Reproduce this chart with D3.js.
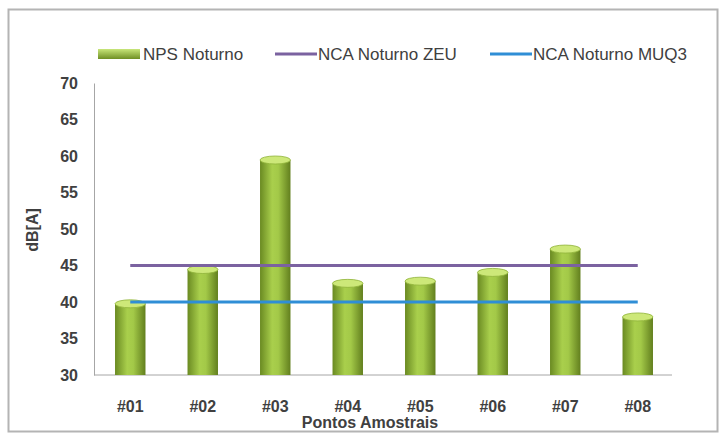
<!DOCTYPE html>
<html>
<head>
<meta charset="utf-8">
<script src="https://cdn.jsdelivr.net/npm/d3@7"></script>
<style>
  body { margin: 0; background: #fff; }
  text { font-family: "Liberation Sans", Arial, sans-serif; fill: #404040; }
</style>
</head>
<body>
<div id="chart"></div>
<script>
// dados
const pontos = ["#01", "#02", "#03", "#04", "#05", "#06", "#07", "#08"];
const npsNoturno = [40.3, 45.0, 60.0, 43.1, 43.4, 44.6, 47.8, 38.5];
const ncaZEU = [45, 45, 45, 45, 45, 45, 45, 45];
const ncaMUQ3 = [40, 40, 40, 40, 40, 40, 40, 40];
const yTicks = [30, 35, 40, 45, 50, 55, 60, 65, 70];

const W = 722, H = 434;
const svg = d3.select("#chart").append("svg")
    .attr("width", W)
    .attr("height", H);

const defs = svg.append("defs");
const grad = defs.append("linearGradient").attr("id", "cyl").attr("x1", "0").attr("x2", "1").attr("y1", "0").attr("y2", "0");
grad.append("stop").attr("offset", "0%").attr("stop-color", "#6a8a22");
grad.append("stop").attr("offset", "40%").attr("stop-color", "#a9cf4c");
grad.append("stop").attr("offset", "60%").attr("stop-color", "#a3c948");
grad.append("stop").attr("offset", "100%").attr("stop-color", "#627f1e");

const swGrad = defs.append("linearGradient").attr("id", "sw").attr("x1", "0").attr("x2", "0").attr("y1", "0").attr("y2", "1");
swGrad.append("stop").attr("offset", "0%").attr("stop-color", "#c8e67a");
swGrad.append("stop").attr("offset", "100%").attr("stop-color", "#6f8f24");

// moldura
svg.append("rect")
    .attr("x", 8.5).attr("y", 9.5)
    .attr("width", 709).attr("height", 422)
    .attr("fill", "#fff")
    .attr("stroke", "#b4b4b4")
    .attr("stroke-width", 2);

const x = d3.scaleBand()
    .domain(pontos)
    .range([94, 674])
    .paddingInner(0.58)
    .paddingOuter(0.29);

const y = d3.scaleLinear()
    .domain([30, 70])
    .range([375, 83]);

// eixo Y
const yAxis = svg.append("g")
    .attr("transform", "translate(94,0)")
    .call(d3.axisLeft(y).tickValues(yTicks).tickSize(0).tickPadding(16));
yAxis.select(".domain").attr("stroke", "#a6a6a6");
yAxis.selectAll("text")
    .style("font-size", "16px")
    .style("font-weight", "bold")
    .attr("fill", "#404040");

// eixo X
const xAxis = svg.append("g")
    .attr("transform", "translate(0,375)")
    .call(d3.axisBottom(x).tickSize(0).tickPadding(26));
xAxis.select(".domain").attr("stroke", "#a6a6a6").attr("d", "M94,0H672");
xAxis.selectAll("text")
    .style("font-size", "16px")
    .style("font-weight", "bold")
    .attr("fill", "#404040");

// barras cilindricas
const bw = x.bandwidth();
const ry = 4;
const bars = svg.append("g");
bars.selectAll("rect")
    .data(npsNoturno)
    .enter()
    .append("rect")
    .attr("x", (d, i) => x(pontos[i]))
    .attr("y", d => y(d) + ry)
    .attr("width", bw)
    .attr("height", d => y(30) - y(d) - ry)
    .attr("fill", "url(#cyl)");

bars.selectAll("ellipse")
    .data(npsNoturno)
    .enter()
    .append("ellipse")
    .attr("cx", (d, i) => x(pontos[i]) + bw / 2)
    .attr("cy", d => y(d) + ry)
    .attr("rx", bw / 2)
    .attr("ry", ry)
    .attr("fill", "#cde879")
    .attr("stroke", "#8fb23a")
    .attr("stroke-width", 0.8);

// linhas NCA
const line = d3.line()
    .x((d, i) => x(pontos[i]) + bw / 2)
    .y(d => y(d));

svg.append("path")
    .datum(ncaZEU)
    .attr("fill", "none")
    .attr("stroke", "#7b62a0")
    .attr("stroke-width", 3)
    .attr("d", line);

svg.append("path")
    .datum(ncaMUQ3)
    .attr("fill", "none")
    .attr("stroke", "#2f8ed6")
    .attr("stroke-width", 3)
    .attr("d", line);

// titulos dos eixos
svg.append("text")
    .attr("x", 370)
    .attr("y", 428)
    .attr("text-anchor", "middle")
    .style("font-size", "16px")
    .style("font-weight", "bold")
    .attr("fill", "#404040")
    .text("Pontos Amostrais");

svg.append("text")
    .attr("transform", "translate(38,230) rotate(-90)")
    .attr("text-anchor", "middle")
    .style("font-size", "16px")
    .style("font-weight", "bold")
    .attr("fill", "#404040")
    .text("dB[A]");

// legenda
const legend = svg.append("g").attr("transform", "translate(0,54)");

legend.append("rect")
    .attr("x", 98).attr("y", -5)
    .attr("width", 42).attr("height", 10)
    .attr("fill", "url(#sw)");
legend.append("text")
    .attr("x", 143).attr("y", 6)
    .style("font-size", "17px")
    .text("NPS Noturno");

legend.append("line")
    .attr("x1", 275).attr("x2", 317)
    .attr("stroke", "#7b62a0").attr("stroke-width", 3);
legend.append("text")
    .attr("x", 318).attr("y", 6)
    .style("font-size", "17px")
    .text("NCA Noturno ZEU");

legend.append("line")
    .attr("x1", 490).attr("x2", 532)
    .attr("stroke", "#2f8ed6").attr("stroke-width", 3);
legend.append("text")
    .attr("x", 533).attr("y", 6)
    .style("font-size", "17px")
    .text("NCA Noturno MUQ3");
</script>
</body>
</html>
